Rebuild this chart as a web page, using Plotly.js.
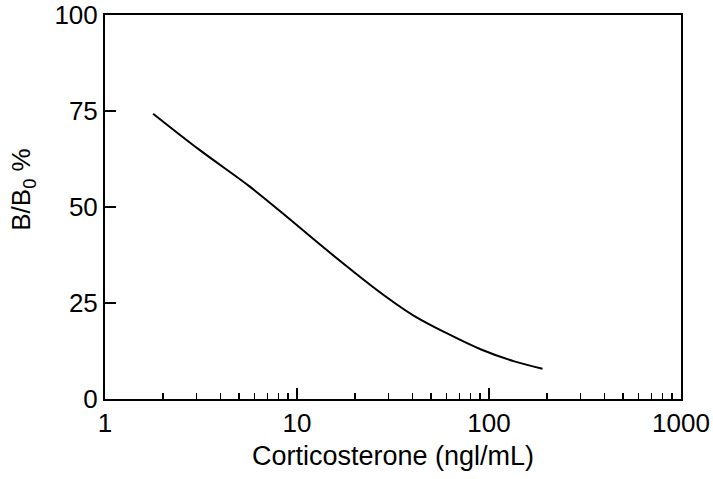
<!DOCTYPE html>
<html>
<head>
<meta charset="utf-8">
<script src="https://cdn.plot.ly/plotly-3.0.1.min.js"></script>
<style>html,body{margin:0;padding:0;background:#fff;}#chart{width:713px;height:479px;}</style>
</head>
<body>
<div id="chart"></div>
<script>
const concentration = [1.78, 3.12, 5.68, 8.98, 12.9, 19.2, 28.6, 40.9, 61.0, 91.0, 135.5, 190];
const bindingPct = [74.3, 64.8, 55.3, 47.2, 40.6, 33.6, 26.9, 21.6, 17.0, 12.9, 9.8, 7.9];
const xTickVals = [1, 10, 100, 1000];
const xTickText = ['1', '10', '100', '1000'];
const yTickVals = [0, 25, 50, 75, 100];
const xTitle = 'Corticosterone (ngl/mL)';
const yTitle = 'B/B<sub>0</sub> %';

const font = 'Liberation Sans, Arial, Helvetica, sans-serif';

Plotly.newPlot('chart', [{
  x: concentration,
  y: bindingPct,
  type: 'scatter',
  mode: 'lines',
  line: {color: '#000', width: 2, shape: 'spline', smoothing: 1},
  hoverinfo: 'skip'
}], {
  width: 713, height: 479,
  margin: {l: 105, r: 32, t: 15, b: 80},
  paper_bgcolor: '#fff', plot_bgcolor: '#fff',
  showlegend: false,
  font: {family: font, color: '#000', size: 26},
  xaxis: {
    type: 'log',
    range: [0, 3],
    tickvals: xTickVals, ticktext: xTickText,
    ticks: 'inside', ticklen: 11, tickwidth: 2, tickcolor: '#000',
    minor: {ticks: 'inside', ticklen: 6, tickwidth: 1.5, tickcolor: '#000', dtick: 'D1', showgrid: false},
    showline: true, linecolor: '#000', linewidth: 2, mirror: true,
    showgrid: false, zeroline: false,
    tickfont: {family: font, size: 26, color: '#000'},
    title: {text: xTitle, font: {family: font, size: 27, color: '#000'}, standoff: 9}
  },
  yaxis: {
    range: [0, 100],
    tickvals: yTickVals,
    ticks: 'inside', ticklen: 11, tickwidth: 2, tickcolor: '#000',
    showline: true, linecolor: '#000', linewidth: 2, mirror: true,
    showgrid: false, zeroline: false,
    tickfont: {family: font, size: 26, color: '#000'}
  },
  annotations: [{
    text: yTitle,
    xref: 'paper', yref: 'paper',
    x: 0, y: 0.545,
    xshift: -82,
    xanchor: 'center', yanchor: 'middle',
    textangle: -90,
    showarrow: false,
    font: {family: font, size: 26, color: '#000'}
  }]
}, {displayModeBar: false, staticPlot: true});
</script>
</body>
</html>
